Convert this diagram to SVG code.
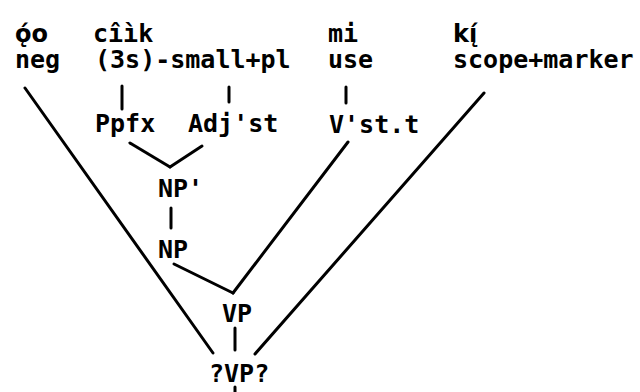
<svg xmlns="http://www.w3.org/2000/svg" width="640" height="392" viewBox="0 0 640 392">
<style>
text{font-family:"DejaVu Sans Mono","Liberation Mono",monospace;font-weight:bold;font-size:25px;fill:#000}
text.acc{font-family:"DejaVu Sans","Noto Sans",sans-serif;font-size:24px}
.c line{stroke:#000;stroke-width:3;stroke-linecap:round}
</style>
<rect width="640" height="392" fill="#fff"/>
<g id="neg"><text class="acc" x="15" y="42">ǫ́o</text><text x="15" y="68">neg</text></g>
<g id="small"><text x="93" y="42">cîìk</text><text x="95" y="68">(3s)-small+pl</text></g>
<g id="use"><text x="328" y="42">mi</text><text x="328" y="68">use</text></g>
<g id="scope"><text class="acc" x="453" y="42">kį́</text><text x="453" y="68">scope+marker</text></g>
<g id="ppfx"><text x="95" y="132">Ppfx</text></g>
<g id="adjst"><text x="188" y="132">Adj'st</text></g>
<g id="vstt"><text x="329" y="133">V'st.t</text></g>
<g id="npbar"><text x="158" y="197">NP'</text></g>
<g id="np"><text x="158" y="258">NP</text></g>
<g id="vp"><text x="222" y="322">VP</text></g>
<g id="qvp"><text x="209" y="382">?VP?</text></g>
<g id="connectors" class="c">
<line x1="122" y1="86" x2="122" y2="109"/>
<line x1="229" y1="87" x2="229" y2="102"/>
<line x1="346" y1="87" x2="346" y2="103"/>
<line x1="130" y1="143" x2="170" y2="167"/>
<line x1="202" y1="146" x2="170" y2="167"/>
<line x1="171" y1="208" x2="171" y2="228"/>
<line x1="174" y1="264" x2="233" y2="293"/>
<line x1="348" y1="142" x2="233" y2="293"/>
<line x1="235" y1="328" x2="235" y2="350"/>
<line x1="25" y1="88" x2="213" y2="353"/>
<line x1="484" y1="93" x2="255" y2="354"/>
<line x1="235" y1="387" x2="235" y2="392"/>
</g>
</svg>
